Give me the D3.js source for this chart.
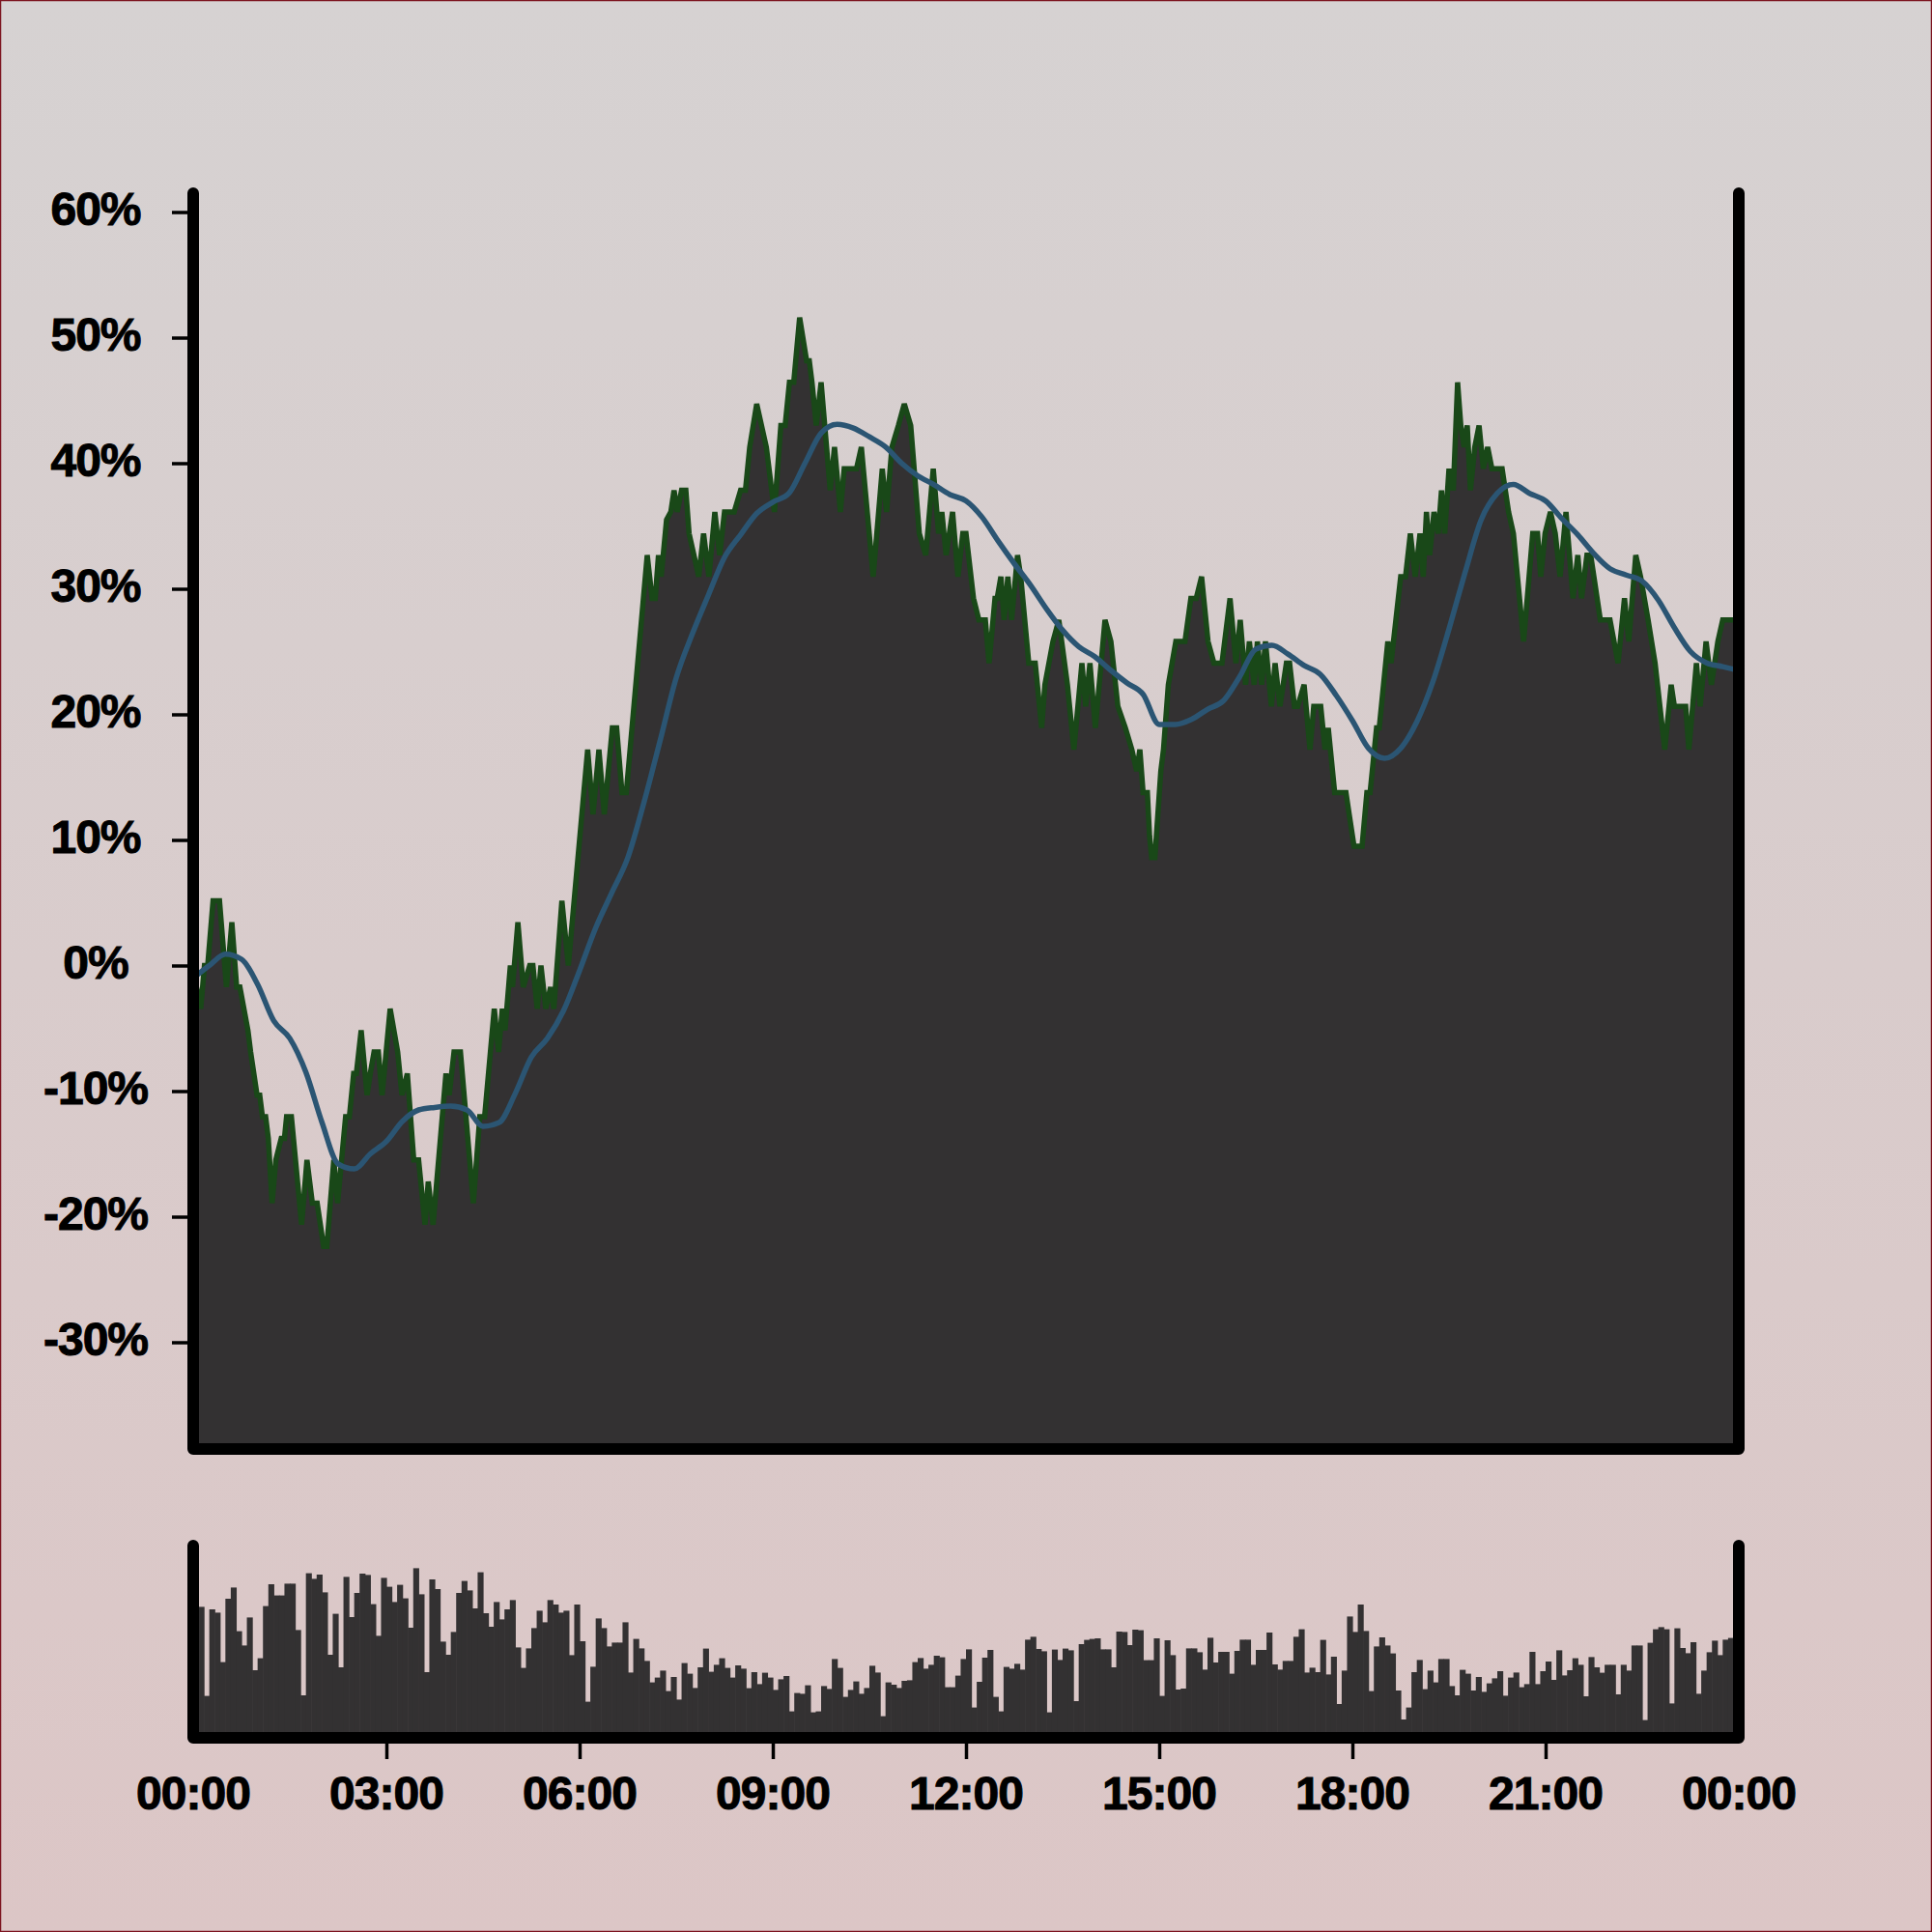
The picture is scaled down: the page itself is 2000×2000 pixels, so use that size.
<!DOCTYPE html>
<html><head><meta charset="utf-8">
<script src="https://cdn.jsdelivr.net/npm/d3@7/dist/d3.min.js"></script>
<style>html,body{margin:0;padding:0;background:#fff}svg{display:block}</style>
</head><body>
<svg id="chart" width="2000" height="2000"></svg>
<script>
// ---- data (minutes since 00:00, percent change) ----
const priceMinutes = [0,3,7,10.5,13.5,18.5,24.5,31,36,40.5,43.5,51,53.5,59.5,62,64.5,67.5,70,73.5,77,82,85,87,91.5,101,106,111,115.5,121.5,124.5,131,134.5,142,145.5,149.5,152,156.5,162,165,168.5,172.5,176,183.5,190.5,194.5,199.5,205.5,210,216,219,223.5,235.5,238.5,243,249,261,267,271.5,280.5,284.5,288,290.5,295.5,297.5,302.5,307.5,313.5,316.5,320.5,324,328.5,333,336,343.5,349.5,367.5,372.5,378,383,390.5,394.5,399.5,403.5,423,427.5,430.5,433.5,436,441,445,448,451,455,459,462,466.5,471,475.5,480.5,486,490.5,495,504,510,514.5,518.5,525,529.5,534,541.5,547.5,551.5,555.5,559.5,565,571.5,574,576.5,580.5,585,593.5,597.5,603,606.5,618,622.5,633.5,642,646,651,657,662.5,668.5,676.5,682.5,689.5,694.5,697.5,701.5,707.5,712.5,717,720,727,732,738,741.5,747,749,752.5,755.5,759,762.5,768,771,778.5,784.5,790.5,793.5,801,806.5,814.5,820.5,828,831.5,835.5,840.5,849.5,855,861.5,868.5,874.5,879,882,885,889,891,893,896,901.5,904,908.5,912,915.5,924,929.5,934.5,939.5,945.5,951,958.5,966,971.5,975.5,980.5,984,988.5,991.5,995.5,999,1004.5,1008,1012.5,1018.5,1021.5,1026,1029,1035,1040.5,1044,1050.5,1054.5,1057.5,1063.5,1074,1077,1081.5,1089,1093.5,1096.5,1102.5,1105,1113,1116,1120.5,1125,1129.5,1134,1138.5,1143,1146,1149,1152,1156,1160,1163,1166,1170,1174,1178,1181,1184,1187,1190,1194,1198,1202,1206,1210,1219.5,1225.5,1230,1239.5,1248,1252.5,1255.5,1259.5,1264.5,1269,1273.5,1279,1285.5,1290,1293.5,1298.5,1302,1305,1311,1320,1327.5,1333.5,1337.5,1344,1348.5,1355.5,1362,1371,1377,1380,1390.5,1393.5,1400.5,1404,1409.5,1414.5,1420.5,1425,1440];
const priceValues = [-1.72,-1.72,-3.44,0,0,5.16,5.16,-1.72,3.44,-1.72,-1.72,-5.16,-6.88,-10.32,-10.32,-12.04,-12.04,-13.76,-18.92,-15.48,-13.76,-13.76,-12.04,-12.04,-20.64,-15.48,-18.92,-18.92,-22.36,-22.36,-15.48,-18.92,-12.04,-12.04,-8.6,-8.6,-5.16,-10.32,-8.6,-6.88,-6.88,-10.32,-3.44,-6.88,-10.32,-8.6,-15.48,-15.48,-20.64,-17.2,-20.64,-8.6,-10.32,-6.88,-6.88,-18.92,-12.04,-12.04,-3.44,-6.88,-3.44,-5.16,0,-1.72,3.44,-1.72,0,0,-3.44,0,-3.44,-1.72,-3.44,5.16,0,17.2,12.04,17.2,12.04,18.92,18.92,13.76,13.76,32.68,29.24,29.24,32.68,30.96,35.5,36.12,37.84,36.12,37.84,37.84,34.4,32.68,30.96,34.4,30.96,36.12,32.68,36.12,36.12,37.84,37.84,41.28,44.72,43,41.28,36.12,43,43,46.44,46.44,51.6,48.16,48.16,46.44,43,46.44,37.84,41.28,36.12,39.56,39.56,41.28,30.96,39.56,36.12,41.28,43,44.72,43,34.4,32.68,39.56,34.4,36.12,32.68,36.12,30.96,34.4,34.4,29.24,27.52,27.52,24.08,29.24,29.24,30.96,27.52,30.96,27.52,32.68,30.96,24.08,24.08,18.92,22.36,25.8,27.52,22.36,17.2,24.08,20.64,24.08,18.92,27.52,25.8,20.64,18.92,17.2,15.48,17.2,13.76,13.76,10.32,8.6,8.6,15.48,17.2,22.36,24.08,25.8,25.8,29.24,29.24,30.96,25.8,24.08,24.08,29.24,24.08,27.52,22.36,25.8,22.36,25.8,22.36,25.8,20.64,24.08,20.64,24.08,24.08,20.64,20.64,22.36,17.2,20.64,20.64,17.2,18.92,13.76,13.76,12.04,9.5,9.5,13.76,13.76,18.92,18.92,25.8,24.08,27.52,30.96,30.96,34.4,30.96,34.4,30.96,36.12,32.68,36.12,34.4,37.84,34.4,39.56,37.84,46.44,43,41.28,43,37.84,41.28,43,39.56,41.28,39.56,39.56,36.12,34.4,25.8,34.4,34.4,30.96,34.4,36.12,34.4,30.96,36.12,29.24,32.68,29.24,32.68,32.68,30.96,27.52,27.52,24.08,29.24,25.8,32.68,30.96,27.52,24.08,17.2,22.36,20.64,20.64,17.2,24.08,20.64,25.8,22.36,25.8,27.52,27.52];

// moving average, one value every 15 minutes
const maValues = [-1.0,0.0,0.9,0.5,-1.5,-4.4,-5.8,-8.5,-12.5,-15.8,-16.2,-15,-14,-12.4,-11.5,-11.3,-11.2,-11.5,-12.8,-12.5,-10.2,-7.3,-5.8,-3.6,-0.4,3,5.8,8.6,13,17.9,22.9,26.4,29.5,32.5,34.3,36,36.9,37.6,40,42.4,43.1,42.8,42.1,41.3,40,39,38.3,37.5,37,35.7,33.8,32,30.3,28.4,26.7,25.4,24.6,23.5,22.5,21.6,19.2,19.2,19.6,20.4,21.1,23,25.2,25.5,24.8,23.9,23.2,21.5,19.5,17.3,16.5,17.3,19.4,22.6,26.8,31.3,35.5,37.6,38.3,37.6,37,35.6,34.3,32.8,31.6,31.1,30.6,29.1,26.9,25,24.1,23.8,23.5];
const maStepMinutes = 15;

// volume, one bar every 5 minutes (relative units)
const volumeValues = [64.8,64.8,18.7,63.5,61.8,36.2,69,74.8,52.2,44.8,
59.3,32,38.2,65.2,76.5,70.7,70.7,76.8,76.8,52.8,
19,82.2,79.3,81.5,72.3,40,61.2,33.5,80.3,59.5,
72,82,81.3,66.2,49.8,79.8,75.2,67.3,76.2,69.2,
54,84.8,71.3,31,79,74,46.8,40,51.8,72,
78.2,73.3,64,82.7,61.5,54.5,67.3,58.3,63.5,68.3,
43.8,33.2,43.3,53.8,62.8,56.8,68.3,66,61.8,62.8,
39.8,66,47,15.7,33.8,58.8,53.8,44.3,46.3,46.3,
56.8,30.8,48.2,43.3,36.8,25.7,28.2,31.8,21.2,28.5,
16.8,35.7,30.2,22.8,33.5,43.2,31.2,34.8,38.2,33.2,
28.2,34.5,32.8,22.7,31,24.8,30.7,28.2,21.8,27.3,
29,10.7,20.2,19.8,24.2,10.2,10.7,23.8,22.3,37.8,
33.2,18.2,21.8,26.2,19.8,22.8,34.3,30.8,8.2,25.7,
24.5,22.8,26.5,26.8,36.2,38.3,32.8,34.8,39.5,38.7,
23.2,23.2,29.2,37.8,42.8,12.7,26,38.5,42.5,18.2,
10.7,33.7,32.8,35.3,32.3,47.8,49.3,43,41.8,10.2,
42.7,37.3,43.2,42.3,16,45.5,47.7,48.2,48.5,42.8,
42.8,33.5,52,51.8,45,53,52.7,37.2,37.2,48.5,
18.7,47.5,39.8,22,22.5,43.3,43.3,41.3,32.3,48.8,
36,41.5,41.5,30.2,42,47.8,47.8,34.8,42.5,42.5,
51.5,35,32.3,36.8,36.8,49.3,53.2,30.8,33.3,31,
47.7,29.8,39,14.5,31.8,59.8,51.8,66,52.3,21.2,
44.3,49,44.8,40.7,21.5,6.5,12.7,31,37.3,22.2,
31.8,25.7,37.8,37.8,23.8,19,32.2,30.2,21.5,28.5,
20.8,25.2,27.8,31.5,18.8,28.2,30.8,23.2,24.8,41.5,
24.8,31.5,36.5,27,42.3,29.3,32,38.2,34.8,18.5,
38.8,33.5,30.7,34.8,34.8,19.5,34.8,31.8,44.8,44.8,
6.2,46.2,53.2,54.3,53.2,14.8,53.7,43.5,40.8,46.5,
19.8,31.8,41.3,47.3,39.8,47.8,48.7,48.7];
const volumeStepMinutes = 5;

const yTickValues = [-30,-20,-10,0,10,20,30,40,50,60];
const xTickMinutes = [0,180,360,540,720,900,1080,1260,1440];
const xTickLabels = ["00:00","03:00","06:00","09:00","12:00","15:00","18:00","21:00","00:00"];

// ---- drawing ----
const svg = d3.select("#chart");
const FONT = "'Liberation Sans', Arial, Helvetica, sans-serif";

const defs = svg.append("defs");
const grad = defs.append("linearGradient").attr("id","bg").attr("x1",0).attr("y1",0).attr("x2",0).attr("y2",1);
grad.append("stop").attr("offset","0%").attr("stop-color","#d6d2d2");
grad.append("stop").attr("offset","100%").attr("stop-color","#dcc6c6");
svg.append("rect").attr("width",2000).attr("height",2000).attr("fill","url(#bg)");
svg.append("rect").attr("x",0.5).attr("y",0.5).attr("width",1999).attr("height",1999)
  .attr("fill","none").attr("stroke","#7d1420").attr("stroke-width",1.5);

const L = 200, R = 1800, T = 200, B = 1500;
const VT = 1600, VB = 1799;

const x = d3.scaleLinear().domain([0,1440]).range([L,R]);
const y = d3.scaleLinear().domain([-38.5,61.5]).range([B,T]);
const yv = d3.scaleLinear().domain([0,100]).range([1793,1593]);

const pricePts = priceMinutes.map((m,i)=>({m, v: priceValues[i]}));
const maPts = maValues.map((v,i)=>({m: i*maStepMinutes, v}));

const clip = defs.append("clipPath").attr("id","plotclip");
clip.append("rect").attr("x",L).attr("y",T-20).attr("width",R-L).attr("height",B-T+20);

const g = svg.append("g").attr("clip-path","url(#plotclip)");
g.append("path").datum(pricePts)
  .attr("d", d3.area().x(d=>x(d.m)).y0(B).y1(d=>y(d.v)))
  .attr("fill","#333132");
g.append("path").datum(pricePts)
  .attr("d", d3.line().x(d=>x(d.m)).y(d=>y(d.v)))
  .attr("fill","none").attr("stroke","#194818").attr("stroke-width",5.5)
  .attr("stroke-linejoin","miter").attr("stroke-miterlimit",3);
g.append("path").datum(maPts)
  .attr("d", d3.line().x(d=>x(d.m)).y(d=>y(d.v)).curve(d3.curveMonotoneX))
  .attr("fill","none").attr("stroke","#2b5573").attr("stroke-width",5.5)
  .attr("stroke-linejoin","round").attr("stroke-linecap","round");

// volume bars
const bw = x(volumeStepMinutes) - x(0);
svg.append("g").selectAll("rect").data(volumeValues).join("rect")
  .attr("x",(d,i)=>x(i*volumeStepMinutes))
  .attr("y",d=>yv(d))
  .attr("width",bw+0.6)
  .attr("height",d=>VB - yv(d))
  .attr("fill","#333132");

// y axis ticks + labels
const yAxis = svg.append("g").attr("transform",`translate(${L},0)`)
  .call(d3.axisLeft(y).tickValues(yTickValues).tickSize(22).tickFormat(d=>d+"%"));
yAxis.select(".domain").remove();
yAxis.selectAll(".tick line").attr("stroke","#000").attr("stroke-width",3.5);
yAxis.selectAll(".tick text")
  .attr("x",-101).attr("dy",null).attr("y",13)
  .attr("text-anchor","middle")
  .style("font-family",FONT).style("font-weight","bold").style("font-size","48px")
  .style("letter-spacing","-1px")
  .attr("fill","#000").attr("stroke","#000").attr("stroke-width",1);

// x axis ticks (interior) + labels
const xAxis = svg.append("g").attr("transform",`translate(0,${VB})`)
  .call(d3.axisBottom(x).tickValues(xTickMinutes.slice(1,-1)).tickSize(22).tickFormat(""));
xAxis.select(".domain").remove();
xAxis.selectAll(".tick line").attr("stroke","#000").attr("stroke-width",3.5);
svg.append("g").selectAll("text").data(xTickMinutes).join("text")
  .attr("x",d=>x(d)).attr("y",1873)
  .attr("text-anchor","middle")
  .style("font-family",FONT).style("font-weight","bold").style("font-size","48px")
  .style("letter-spacing","-1px")
  .attr("fill","#000").attr("stroke","#000").attr("stroke-width",1)
  .text((d,i)=>xTickLabels[i]);

// frame lines
const frame = (top,bottom)=>`M${L},${top}V${bottom}H${R}V${top}`;
svg.append("path").attr("d",frame(T,B))
  .attr("fill","none").attr("stroke","#000").attr("stroke-width",12)
  .attr("stroke-linecap","round").attr("stroke-linejoin","round");
svg.append("path").attr("d",frame(VT,VB))
  .attr("fill","none").attr("stroke","#000").attr("stroke-width",12)
  .attr("stroke-linecap","round").attr("stroke-linejoin","round");
</script>
</body></html>
